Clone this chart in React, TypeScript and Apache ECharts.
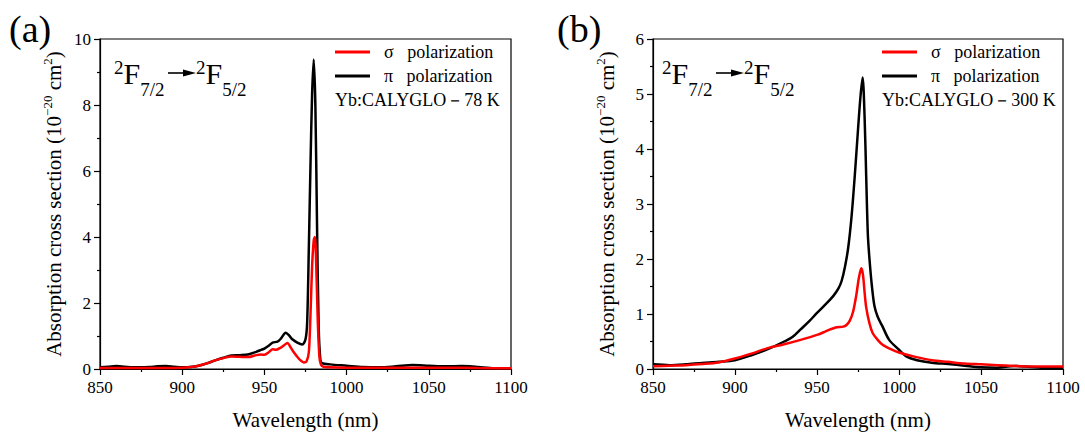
import React, { useEffect, useRef } from 'react';
import * as echarts from 'echarts';

const FONT = 'Liberation Serif, Times New Roman, serif';
const NB = '\u00a0';

const SIGMA = 'σ' + NB + NB + NB + 'polarization';
const PI = 'π' + NB + NB + NB + 'polarization';

const panelLabels = ['(a)', '(b)'];
const sampleLabels = ['Yb:CALYGLO－78 K', 'Yb:CALYGLO－300 K'];
const xName = 'Wavelength (nm)';

const xMin = 850;
const xMax = 1100;
const xStep = 50;
const yMaxA = 10;
const yStepA = 2;
const yMaxB = 6;
const yStepB = 1;

// Panel (a), 78 K, π polarization
const wlA_pi = [850, 855, 860, 865, 870, 875, 880, 885, 890, 895, 900, 905, 910, 915, 920, 925, 930, 935, 940, 945, 948, 950, 953, 955, 958, 960, 963, 965, 967, 970, 973, 975, 976, 977, 978, 979, 980, 981, 982, 983, 984, 985, 990, 1000, 1010, 1020, 1030, 1040, 1050, 1060, 1070, 1075, 1080, 1090, 1100];
const valA_pi = [0.05, 0.07, 0.09, 0.07, 0.05, 0.05, 0.06, 0.08, 0.09, 0.07, 0.05, 0.06, 0.1, 0.17, 0.26, 0.34, 0.41, 0.42, 0.44, 0.52, 0.58, 0.62, 0.72, 0.8, 0.83, 0.92, 1.1, 1.02, 0.9, 0.8, 0.74, 0.9, 1.4, 3.6, 6.1, 8.3, 9.38, 8.0, 4.4, 1.3, 0.3, 0.18, 0.14, 0.1, 0.06, 0.05, 0.08, 0.12, 0.1, 0.08, 0.09, 0.08, 0.06, 0.02, 0.02];

// Panel (a), 78 K, σ polarization
const wlA_sigma = [850, 870, 890, 900, 905, 910, 915, 920, 925, 930, 935, 940, 945, 948, 950, 953, 955, 957, 960, 962, 964, 966, 968, 970, 972, 974, 975.5, 977, 978, 979, 980, 980.7, 981.5, 982.5, 983.5, 984.5, 986, 990, 1000, 1020, 1040, 1060, 1080, 1100];
const valA_sigma = [0.03, 0.03, 0.03, 0.04, 0.06, 0.1, 0.17, 0.26, 0.33, 0.38, 0.37, 0.36, 0.42, 0.44, 0.43, 0.52, 0.6, 0.58, 0.65, 0.72, 0.79, 0.65, 0.5, 0.37, 0.26, 0.2, 0.22, 0.5, 1.6, 3.1, 3.9, 4.0, 3.2, 1.4, 0.35, 0.12, 0.07, 0.05, 0.04, 0.04, 0.04, 0.04, 0.03, 0.02];

// Panel (b), 300 K, π polarization
const wlB_pi = [850, 860, 870, 880, 890, 900, 910, 920, 930, 935, 940, 945, 950, 955, 960, 963, 965, 967, 969, 971, 973, 975, 976.5, 977.8, 979, 980, 981, 982, 983.5, 985, 987, 990, 994, 1000, 1005, 1011, 1020, 1030, 1040, 1050, 1060, 1070, 1077, 1088, 1100];
const valB_pi = [0.085, 0.07, 0.085, 0.11, 0.13, 0.16, 0.25, 0.36, 0.5, 0.58, 0.72, 0.86, 1.02, 1.17, 1.33, 1.46, 1.6, 1.85, 2.2, 2.75, 3.5, 4.35, 4.95, 5.3, 4.6, 3.5, 2.45, 2.0, 1.5, 1.15, 0.95, 0.77, 0.53, 0.35, 0.22, 0.16, 0.115, 0.09, 0.06, 0.03, 0.025, 0.055, 0.045, 0.02, 0.02];

// Panel (b), 300 K, σ polarization
const wlB_sigma = [850, 860, 870, 880, 890, 900, 910, 920, 930, 940, 950, 955, 958, 962, 966, 968, 970, 972, 974, 975.5, 977, 978, 979, 980, 982, 984, 987, 990, 995, 1000, 1010, 1020, 1030, 1040, 1050, 1060, 1070, 1080, 1090, 1100];
const valB_sigma = [0.05, 0.06, 0.07, 0.09, 0.12, 0.19, 0.28, 0.38, 0.45, 0.53, 0.62, 0.68, 0.72, 0.76, 0.77, 0.8, 0.88, 1.04, 1.35, 1.65, 1.83, 1.72, 1.4, 1.12, 0.83, 0.65, 0.53, 0.44, 0.36, 0.3, 0.22, 0.16, 0.13, 0.1, 0.085, 0.07, 0.055, 0.045, 0.045, 0.045];

const zip = (xs: number[], ys: number[]) => xs.map((x, i) => [x, ys[i]]);

const grids = [
  { left: 100, top: 39, width: 411, height: 330 },
  { left: 653, top: 39, width: 410, height: 330 },
];

function makeXAxis(gridIndex: number) {
  return {
    gridIndex,
    type: 'value',
    min: xMin,
    max: xMax,
    interval: xStep,
    axisLine: { onZero: false, lineStyle: { color: '#000', width: 1.2 } },
    axisTick: { show: true, inside: false, length: 6, lineStyle: { color: '#000', width: 1.2 } },
    minorTick: { show: true, splitNumber: 2, length: 3, lineStyle: { color: '#000', width: 1.2 } },
    splitLine: { show: false },
    axisLabel: { color: '#000', fontSize: 17, fontFamily: FONT, margin: 10, formatter: (v: number) => String(v) },
    name: xName,
    nameLocation: 'middle',
    nameGap: 40,
    nameTextStyle: { color: '#000', fontSize: 21, fontFamily: FONT },
  };
}

function makeYAxis(gridIndex: number, max: number, step: number) {
  return {
    gridIndex,
    type: 'value',
    min: 0,
    max,
    interval: step,
    axisLine: { show: true, onZero: false, lineStyle: { color: '#000', width: 1.2 } },
    axisTick: { show: true, inside: false, length: 6, lineStyle: { color: '#000', width: 1.2 } },
    minorTick: { show: true, splitNumber: 2, length: 3, lineStyle: { color: '#000', width: 1.2 } },
    splitLine: { show: false },
    axisLabel: { color: '#000', fontSize: 17, fontFamily: FONT, margin: 9, formatter: (v: number) => String(v) },
    name: '{a|Absorption cross section (10}{s|−20}{a| cm}{s|2}{a|)}',
    nameLocation: 'middle',
    nameRotate: 90,
    nameGap: 33,
    nameTextStyle: {
      color: '#000',
      fontSize: 21,
      fontFamily: FONT,
      rich: {
        a: { fontSize: 21, fontFamily: FONT, color: '#000', lineHeight: 26 },
        s: { fontSize: 13, fontFamily: FONT, color: '#000', lineHeight: 13, verticalAlign: 'top' },
      },
    },
  };
}

function lineSeries(name: string, xi: number, xs: number[], ys: number[], color: string) {
  return {
    type: 'line',
    name,
    xAxisIndex: xi,
    yAxisIndex: xi,
    data: zip(xs, ys),
    symbol: 'none',
    showSymbol: false,
    smooth: 0.3,
    lineStyle: { color, width: 2.5 },
    itemStyle: { color },
  };
}

const transRich = {
  s: { fontSize: 19, fontFamily: FONT, fill: '#000', lineHeight: 19, verticalAlign: 'top' },
  m: { fontSize: 30, fontFamily: FONT, fill: '#000', lineHeight: 30, verticalAlign: 'top' },
  b: { fontSize: 19, fontFamily: FONT, fill: '#000', lineHeight: 19, verticalAlign: 'bottom' },
  sp: { fontSize: 1, fontFamily: FONT, lineHeight: 41 },
};

function annotations(dx: number, label: string, sample: string, legendLeft: number) {
  return [
    {
      type: 'text',
      x: 9 + dx,
      y: 29,
      style: { text: label, fontSize: 38, fontFamily: FONT, fill: '#000', verticalAlign: 'middle', align: 'left' },
    },
    {
      type: 'text',
      x: 114 + dx,
      y: 58,
      style: { text: '{s|2}{m|F}{b|7/2}{sp|' + NB + '}', rich: transRich, fontFamily: FONT, verticalAlign: 'top', align: 'left' },
    },
    {
      type: 'line',
      shape: { x1: 168 + dx, y1: 73, x2: 187 + dx, y2: 73 },
      style: { stroke: '#000', lineWidth: 1.6 },
    },
    {
      type: 'polygon',
      shape: { points: [[183 + dx, 69.5], [196 + dx, 73], [183 + dx, 76.5]] },
      style: { fill: '#000' },
    },
    {
      type: 'text',
      x: 196 + dx,
      y: 58,
      style: { text: '{s|2}{m|F}{b|5/2}{sp|' + NB + '}', rich: transRich, fontFamily: FONT, verticalAlign: 'top', align: 'left' },
    },
    {
      type: 'text',
      x: legendLeft,
      y: 100,
      style: { text: sample, fontSize: 18, fontFamily: FONT, fill: '#000', verticalAlign: 'middle', align: 'left' },
    },
  ];
}

function makeLegend(left: number) {
  return {
    left,
    top: 42,
    orient: 'vertical',
    padding: 0,
    itemGap: 4,
    itemWidth: 35,
    itemHeight: 3,
    icon: 'rect',
    data: [SIGMA, PI],
    formatter: (n: string) => NB + NB + n,
    textStyle: { color: '#000', fontSize: 18, fontFamily: FONT, lineHeight: 20 },
  };
}

export default function App() {
  const ref = useRef<HTMLDivElement>(null);
  useEffect(() => {
    document.body.style.margin = '0';
    const chart = echarts.init(ref.current as HTMLDivElement, null, { renderer: 'svg' });
    chart.setOption({
      animation: false,
      backgroundColor: '#fff',
      grid: grids.map((g) => ({
        ...g,
        show: true,
        borderColor: '#000',
        borderWidth: 1.2,
        backgroundColor: 'transparent',
        containLabel: false,
        outerBoundsMode: 'none',
      })),
      xAxis: [makeXAxis(0), makeXAxis(1)],
      yAxis: [makeYAxis(0, yMaxA, yStepA), makeYAxis(1, yMaxB, yStepB)],
      legend: [makeLegend(335), makeLegend(882)],
      series: [
        lineSeries(PI, 0, wlA_pi, valA_pi, '#000000'),
        lineSeries(SIGMA, 0, wlA_sigma, valA_sigma, '#ff0000'),
        lineSeries(PI, 1, wlB_pi, valB_pi, '#000000'),
        lineSeries(SIGMA, 1, wlB_sigma, valB_sigma, '#ff0000'),
      ],
      graphic: [
        ...annotations(0, panelLabels[0], sampleLabels[0], 335),
        ...annotations(548, panelLabels[1], sampleLabels[1], 882),
      ],
    });
    return () => chart.dispose();
  }, []);
  return <div ref={ref} style={{ width: 1085, height: 432 }} />;
}
